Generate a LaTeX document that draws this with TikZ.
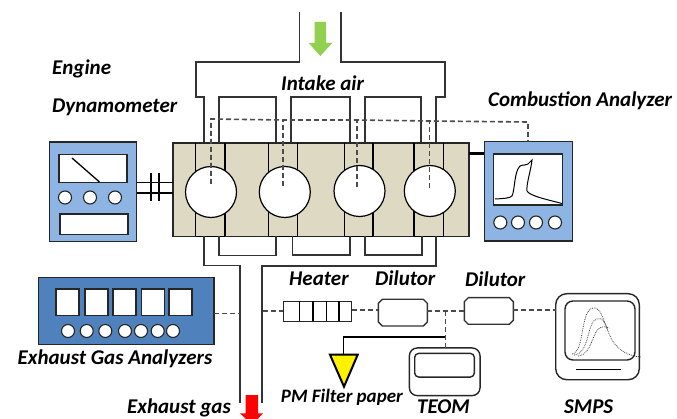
\documentclass[tikz,border=0pt]{standalone}
\usepackage{fontspec}
\setmainfont{Carlito}
\usepackage{tikz}
\usetikzlibrary{calc}

\definecolor{blockfill}{HTML}{DDD9C3}
\definecolor{panelfill}{HTML}{8EB4E3}
\definecolor{rackfill}{HTML}{4F81BD}
\definecolor{airgreen}{HTML}{92D050}

\tikzset{
  label/.style={anchor=base west, inner sep=0pt, font=\bfseries\itshape\fontsize{21}{24}\selectfont},
  unit/.style={draw=black!85, line width=1.4pt, minimum width=#1, inner sep=0pt, outer sep=0pt},
  panel/.style={unit=#1, fill=panelfill},
  screen/.style={unit=#1, fill=white},
  knob/.style={circle, draw=black!85, fill=white, line width=1.1pt, minimum size=13pt, inner sep=0pt, outer sep=0pt},
  cylinder/.style={circle, draw=black, fill=white, line width=1.2pt, minimum size=51pt, inner sep=0pt, outer sep=0pt},
  pipe/.style={draw=black!80, line width=1.4pt},
  probe/.style={draw=black!70, line width=1.6pt, dash pattern=on 5pt off 3pt},
  trace/.style={draw=black!75, line width=.8pt, densely dotted},
}

\begin{document}
\begin{tikzpicture}[x=1pt,y=-1pt]
    \useasboundingbox (0,0) rectangle (677,419);

    % intake manifold
    \draw[pipe] (299.5,12) -- (299.5,62) -- (196,62) -- (196,97) -- (204,97) -- (204,143);
    \draw[pipe] (219,143) -- (219,97) -- (276,97) -- (276,143);
    \draw[pipe] (291,143) -- (291,97) -- (350,97) -- (350,143);
    \draw[pipe] (365,143) -- (365,97) -- (421,97) -- (421,143);
    \draw[pipe] (436,143) -- (436,97) -- (445,97) -- (445,62) -- (341,62) -- (341,12);
    \fill[airgreen] (314.5,22) -- (326,22) -- (326,43) -- (332.3,43) -- (320.3,56) -- (308.7,43) -- (314.5,43) -- cycle;

    % engine block
    \node[unit=296pt, minimum height=93.5pt, fill=blockfill] (engine) at (321,189.8) {};
    \foreach \x in {195.5,225,268.7,297.7,344.7,373,414,443.7}
      \draw[line width=1.2pt] (\x,143) -- (\x,236.5);
    \draw[line width=1.6pt] (195.5,236.5) -- (225,236.5) (268.7,236.5) -- (297.7,236.5) (344.7,236.5) -- (373,236.5) (414,236.5) -- (443.7,236.5);
    \node[cylinder] (cylA) at (211,192) {};
    \node[cylinder] (cylB) at (284.8,192) {};
    \node[cylinder] (cylC) at (359.5,191) {};
    \node[cylinder] (cylD) at (429.8,191) {};

    % exhaust side
    \draw[pipe] (204,236.5) -- (204,265.5) -- (240,265.5) -- (240,403);
    \draw[pipe] (219,236.5) -- (219,255.7) -- (276,255.7) -- (276,236.5);
    \draw[pipe] (292.7,236.5) -- (292.7,255) -- (350,255) -- (350,236.5);
    \draw[pipe] (365,236.5) -- (365,255) -- (422,255) -- (422,236.5);
    \draw[pipe] (436,236.5) -- (436,266) -- (262,266) -- (262,403);
    \fill[red] (245.7,395) -- (258,395) -- (258,413.3) -- (263,413.3) -- (252,425) -- (240,413.3) -- (245.7,413.3) -- cycle;

    % dynamometer
    \node[panel=87pt, minimum height=99.7pt] (dyno) at (93,191.9) {};
    \node[screen=68pt, minimum height=28pt] (dynoScreen) at (93,168.5) {};
    \node[screen=68pt, minimum height=20.3pt] (dynoDisplay) at (94,224.2) {};
    \draw[line width=1.3pt] (72,158) -- (99.5,182);
    \foreach \i/\x in {1/65,2/90,3/115}
      \node[knob] (dynoKnob\i) at (\x,197.5) {};
    \draw[line width=1.4pt] (dyno.east |- 0,182.5) -- (engine.west |- 0,182.5);
    \draw[line width=1.4pt] (dyno.east |- 0,193) -- (engine.west |- 0,193);
    \draw[line width=1.4pt] (151,173) -- (151,201) (159,173) -- (159,201);

    % combustion analyzer
    \node[panel=88pt, minimum height=99.5pt] (combustion) at (528.3,191.3) {};
    \node[screen=68.6pt, minimum height=51pt] (combustionScreen) at (528,179.5) {};
    \foreach \i/\x in {1/500.3,2/518,3/536,4/555}
      \node[knob] (combustionKnob\i) at (\x,222.5) {};
    \draw[line width=3.2pt] (engine.east |- 0,153.5) -- (combustion.west |- 0,153.5);
    \draw[line width=1pt] (495,199) .. controls (505,198.5) and (510,198) .. (512,196)
      .. controls (515,190) and (514,172) .. (520,166)
      .. controls (524,164) and (526,166) .. (528,164) -- (532,160)
      .. controls (531,170) and (526,185) .. (527,191)
      .. controls (530,196) and (545,199) .. (562,203.5);

    % dashed pressure lines
    \coordinate (probeTop) at (528,122);
    \draw[probe] (211,184) -- (211,119) -- (283,120) -- (356.7,120) -- (429.3,121) -- (probeTop) -- (combustion.north -| probeTop);
    \draw[probe] (283,186) -- (283,120);
    \draw[probe] (356.7,187) -- (356.7,120);
    \draw[probe] (429.3,188) -- (429.3,121);

    % exhaust gas analyzers
    \node[unit=175.3pt, minimum height=67pt, fill=rackfill] (gasRack) at (126.4,311.2) {};
    \foreach \i/\x in {1/67.5,2/96.5,3/124.5,4/153.2,5/180.5}
      \node[screen=23pt, minimum height=26.3pt] (gasCell\i) at (\x,302.2) {};
    \foreach \i/\x in {1/68,2/86.7,3/105.3,4/125,5/141,6/157.7,7/173}
      \node[knob] (gasKnob\i) at (\x,331) {};
    \coordinate (tapOut) at (240,313.7);
    \draw[probe] (gasRack.east |- tapOut) -- (tapOut);

    % sampling train
    \node[unit=68.4pt, minimum height=20pt] (heater) at (317.5,311.3) {};
    \foreach \x in {299.7,313,326.7,339}
      \draw[line width=1.3pt] (\x,301.3) -- (\x,321.3);
    \coordinate (tapIn) at (263,311.3);
    \draw[probe] (tapIn) -- (heater.west |- tapIn);

    \node[minimum width=49pt, minimum height=26.7pt, inner sep=0pt, outer sep=0pt] (dilutorA) at (402.8,312.7) {};
    \draw[pipe] (382.3,299.3) -- (423.3,299.3) -- (427.3,303.3) -- (427.3,322) -- (423.3,326) -- (382.3,326) -- (378.3,322) -- (378.3,303.3) -- cycle;
    \node[minimum width=49pt, minimum height=26.6pt, inner sep=0pt, outer sep=0pt] (dilutorB) at (488.8,311) {};
    \draw[pipe] (468.3,297.7) -- (509.3,297.7) -- (513.3,301.7) -- (513.3,320.3) -- (509.3,324.3) -- (468.3,324.3) -- (464.3,320.3) -- (464.3,301.7) -- cycle;

    \node[unit=83.6pt, minimum height=86pt, rounded corners=11pt] (smps) at (597.5,336.7) {};
    \node[unit=70pt, minimum height=59pt, rounded corners=8pt] (smpsScreen) at (600,330.5) {};
    \draw[line width=1.6pt] (576,369.3) -- (620.7,369.3);
    \draw[trace] (572,354) .. controls (585,352) and (580,310) .. (593,308)
      .. controls (602,306) and (604,325) .. (612,340) .. controls (618,350) and (628,356) .. (641,357);
    \draw[trace] (574,355) .. controls (590,354) and (587,320) .. (597,319) .. controls (603,317) and (604,322) .. (608,330);
    \draw[trace] (578,356) .. controls (593,355) and (592,328) .. (602,327) .. controls (605,326) and (606,327) .. (609,328);

    \node[unit=70.7pt, minimum height=47.7pt, rounded corners=8pt] (teom) at (444.7,371.8) {};
    \node[unit=59.6pt, minimum height=23.7pt, rounded corners=4pt] (teomScreen) at (444.5,365.2) {};

    \coordinate (split) at (445.3,311.3);
    \draw[probe] (heater.east |- 0,310.3) -- (dilutorA.west |- 0,310.3);
    \draw[probe] (dilutorA.east |- split) -- (dilutorB.west |- split);
    \draw[probe] (split) -- (teom.north -| split);
    \draw[probe, line width=2.2pt] (dilutorB.east |- 0,309.7) -- (smps.west |- 0,309.7);

    % filter holder
    \node[minimum size=1pt, inner sep=0pt, outer sep=0pt] (filterTop) at (343.5,354.7) {};
    \draw[line width=1.7pt] (split |- 0,336.7) -- (343.5,336.7) -- (filterTop);
    \draw[line width=2pt, fill=yellow, line join=miter] (330,354.7) -- (357.7,354.7) -- (344,386.7) -- cycle;

    % labels
    \node[label] (engineText) at (52,75) {Engine};
    \node[label] (dynoText) at (52,112.7) {Dynamometer};
    \node[label] (intakeText) at (281,90.7) {Intake air};
    \node[label] (combustionText) at (488,106.7) {Combustion Analyzer};
    \node[label] (gasText) at (17.5,364) {Exhaust Gas Analyzers};
    \node[label] (exhaustText) at (127,413) {Exhaust gas};
    \node[label] (heaterText) at (289,285.7) {Heater};
    \node[label] (dilutorAText) at (375,285.7) {Dilutor};
    \node[label] (dilutorBText) at (465,286.7) {Dilutor};
    \node[label, font=\bfseries\itshape\fontsize{19}{22}\selectfont] (filterText) at (280.7,402) {PM Filter paper};
    \node[label] (teomText) at (417,413.5) {TEOM};
    \node[label] (smpsText) at (564,413.5) {SMPS};
\end{tikzpicture}
\end{document}
